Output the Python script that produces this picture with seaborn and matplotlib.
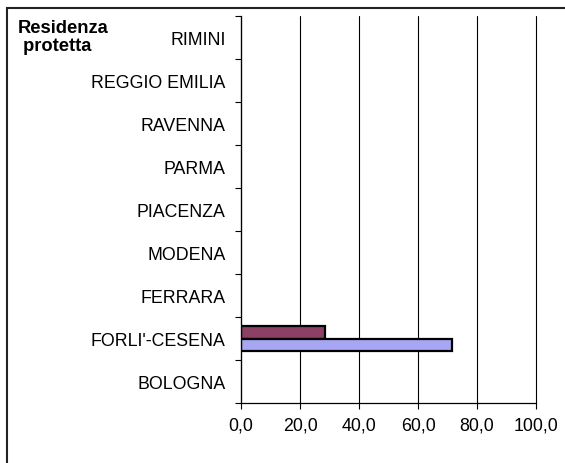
import numpy as np
import pandas as pd
import matplotlib.pyplot as plt
import seaborn as sns
from matplotlib.patches import Rectangle
from matplotlib.ticker import FuncFormatter, FixedLocator

# Categories top to bottom as shown
provinces = ['RIMINI', 'REGGIO EMILIA', 'RAVENNA', 'PARMA', 'PIACENZA',
             'MODENA', 'FERRARA', "FORLI'-CESENA", 'BOLOGNA']
serie_a = [np.nan, np.nan, np.nan, np.nan, np.nan, np.nan, np.nan, 28.5, np.nan]
serie_b = [np.nan, np.nan, np.nan, np.nan, np.nan, np.nan, np.nan, 71.5, np.nan]
series_names = ['Serie A', 'Serie B']
colors = ['#993366', '#9999FF']

df = pd.concat([
    pd.DataFrame({'provincia': provinces, 'valore': serie_a, 'serie': series_names[0]}),
    pd.DataFrame({'provincia': provinces, 'valore': serie_b, 'serie': series_names[1]}),
], ignore_index=True)

sns.set_style('white')
plt.rcParams['font.family'] = ['Liberation Sans', 'DejaVu Sans']
plt.rcParams['text.color'] = 'black'
plt.rcParams['xtick.color'] = 'black'
plt.rcParams['ytick.color'] = 'black'

fig = plt.figure(figsize=(5.65, 4.64), dpi=100)
ax = fig.add_axes([241 / 565, 1 - 404 / 464, 295 / 565, 387 / 464])

sns.barplot(data=df, y='provincia', x='valore', hue='serie', order=provinces,
            hue_order=series_names, palette=colors, orient='h', width=0.6,
            edgecolor='black', linewidth=1.6, errorbar=None, legend=False, ax=ax)

ax.set_xlim(0, 100)
ax.set_ylim(len(provinces) - 0.5, -0.5)
ax.set_xticks([0, 20, 40, 60, 80, 100])
ax.xaxis.set_major_formatter(FuncFormatter(lambda v, p: f'{v:.1f}'.replace('.', ',')))
ax.xaxis.grid(True, color='black', linewidth=0.8)
ax.set_axisbelow(True)
for gl in ax.get_xgridlines():
    gl.set_clip_on(False)

ax.yaxis.set_minor_locator(FixedLocator(np.arange(-0.5, len(provinces), 1)))
ax.tick_params(axis='y', which='major', length=0, pad=11, labelsize=12.8)
ax.tick_params(axis='y', which='minor', length=4, width=0.8, color='black', left=True)
ax.tick_params(axis='x', which='major', length=4, width=0.8, color='black', bottom=True,
               pad=6, labelsize=12.8)

for side in ['top', 'right']:
    ax.spines[side].set_visible(False)
for side in ['left', 'bottom']:
    ax.spines[side].set_color('black')
    ax.spines[side].set_linewidth(0.9)
ax.set_xlabel('')
ax.set_ylabel('')

fig.text(18 / 565, 1 - 20 / 464, 'Residenza\n protetta', fontsize=13.2, fontweight='bold',
         ha='left', va='top', linespacing=1.05)

fig.patches.append(Rectangle((7 / 565, -0.05), 1.1, 1 - 9 / 464 + 0.05,
                             transform=fig.transFigure, fill=False,
                             edgecolor='#222222', linewidth=1.5, clip_on=False))

fig.savefig('out.png', dpi=100)
